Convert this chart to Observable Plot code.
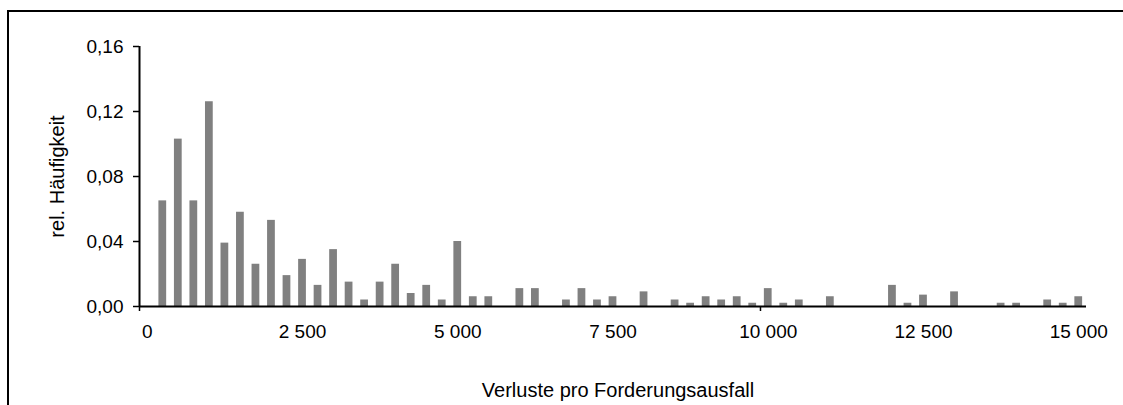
<!DOCTYPE html>
<html>
<head>
<meta charset="utf-8">
<script src="https://cdn.jsdelivr.net/npm/d3@7"></script>
<script src="https://cdn.jsdelivr.net/npm/@observablehq/plot@0.6"></script>
<style>
html, body { margin: 0; padding: 0; background: #fff; overflow: hidden; width: 1123px; height: 405px; }
#frame { position: absolute; left: 7px; top: 10px; width: 1200px; height: 500px; border: 2px solid #000; box-sizing: border-box; }
#chart { position: absolute; left: 0; top: 0; }
</style>
</head>
<body>
<div id="frame"></div>
<div id="chart"></div>
<script>
const categories = [
  0, 250, 500, 750, 1000, 1250, 1500, 1750, 2000, 2250,
  2500, 2750, 3000, 3250, 3500, 3750, 4000, 4250, 4500, 4750,
  5000, 5250, 5500, 5750, 6000, 6250, 6500, 6750, 7000, 7250,
  7500, 7750, 8000, 8250, 8500, 8750, 9000, 9250, 9500, 9750,
  10000, 10250, 10500, 10750, 11000, 11250, 11500, 11750, 12000, 12250,
  12500, 12750, 13000, 13250, 13500, 13750, 14000, 14250, 14500, 14750,
  15000
];
const frequencies = [
  0, 0.065, 0.103, 0.065, 0.126, 0.039, 0.058, 0.026, 0.053, 0.019,
  0.029, 0.013, 0.035, 0.015, 0.004, 0.015, 0.026, 0.008, 0.013, 0.004,
  0.040, 0.006, 0.006, 0, 0.011, 0.011, 0, 0.004, 0.011, 0.004,
  0.006, 0, 0.009, 0, 0.004, 0.002, 0.006, 0.004, 0.006, 0.002,
  0.011, 0.002, 0.004, 0, 0.006, 0, 0, 0, 0.013, 0.002,
  0.007, 0, 0.009, 0, 0, 0.002, 0.002, 0, 0.004, 0.002,
  0.006
];
const xTickValues = [0, 2500, 5000, 7500, 10000, 12500, 15000];
const xTickMarks = [0, 10000];
const yTickValues = [0, 0.04, 0.08, 0.12, 0.16];
const xTitle = "Verluste pro Forderungsausfall";
const yTitle = "rel. Häufigkeit";

const de = d3.formatLocale({decimal: ",", thousands: " ", grouping: [3], currency: ["", " €"]});
const data = categories.map((c, i) => ({c, f: frequencies[i]})).filter(d => d.f > 0);

const chart = Plot.plot({
  width: 1123,
  height: 405,
  marginLeft: 139,
  marginRight: 37,
  marginTop: 46,
  marginBottom: 99,
  style: {fontFamily: "'Liberation Sans', Arial, sans-serif", fontSize: "19px", color: "#000", background: "transparent", overflow: "visible"},
  x: {type: "band", domain: categories, paddingInner: 0.5, paddingOuter: 0.25},
  y: {domain: [0, 0.16]},
  marks: [
    Plot.barY(data, {x: "c", y: "f", fill: "#808080"}),
    Plot.axisY({ticks: yTickValues, tickFormat: de.format(".2f"), tickSize: 6, tickPadding: 10, label: null, stroke: "#000", strokeWidth: 1.5, fontSize: 19}),
    Plot.axisX({ticks: xTickValues, tickFormat: de.format(",d"), tickSize: 0, tickPadding: 18, label: null, fontSize: 19}),
    Plot.axisX({ticks: xTickMarks, tickFormat: () => "", tickSize: 5, dx: -7.76, label: null, stroke: "#000", strokeWidth: 1.5}),
    Plot.ruleX([categories[0]], {y1: 0, y2: 0.16, dx: -7.76, stroke: "#000", strokeWidth: 2}),
    Plot.ruleY([0], {stroke: "#000", strokeWidth: 2}),
    Plot.text([yTitle], {text: d => d, frameAnchor: "left", textAnchor: "middle", lineAnchor: "middle", rotate: -90, dx: -82, fontSize: 20, fill: "#000"}),
    Plot.text([xTitle], {text: d => d, frameAnchor: "bottom", textAnchor: "middle", lineAnchor: "middle", dy: 84, dx: 5, fontSize: 20, fill: "#000"})
  ]
});
document.getElementById("chart").appendChild(chart);
</script>
</body>
</html>
